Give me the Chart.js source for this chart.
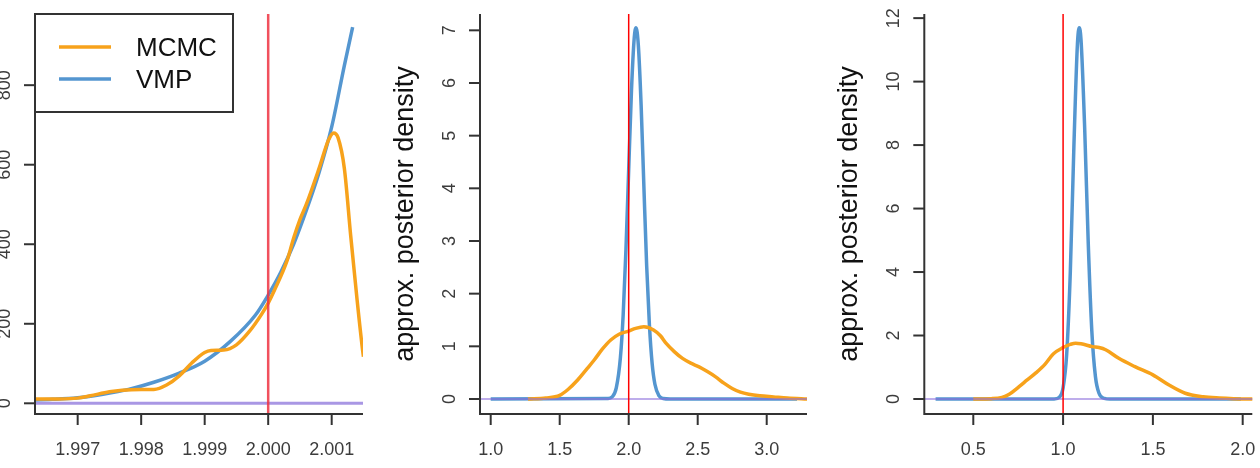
<!DOCTYPE html>
<html>
<head>
<meta charset="utf-8">
<script src="https://cdn.jsdelivr.net/npm/chart.js@4.4.1/dist/chart.umd.min.js"></script>
<style>
  body { margin: 0; background: #fff; }
  .wrap { position: relative; width: 1260px; height: 468px; overflow: hidden; }
  canvas { position: absolute; top: 0; }
</style>
</head>
<body>
<div class="wrap">
  <canvas id="panel1" width="380" height="468" style="left:0"></canvas>
  <canvas id="panel2" width="440" height="468" style="left:380px"></canvas>
  <canvas id="panel3" width="440" height="468" style="left:820px"></canvas>
</div>
<script>
const seriesLabels = ['MCMC', 'VMP'];
const yAxisTitle = 'approx. posterior density';
const trueValues = [2.000, 2.0, 1.0];

// panel 1
const mcmc1X = [1.9962, 1.9964, 1.9967, 1.9970, 1.9972, 1.9975, 1.9977, 1.9980, 1.9982, 1.9984, 1.9986, 1.9988, 1.9990, 1.9991, 1.9993, 1.9995, 1.9997, 1.9999, 2.0000, 2.0001, 2.0003, 2.0004, 2.0005, 2.0006, 2.0008, 2.00095, 2.00103, 2.0011, 2.0012, 2.0013, 2.0014, 2.0015, 2.0016];
const mcmc1Y = [10, 11, 11, 13, 19, 29, 33, 35, 35, 46, 69, 102, 128, 133, 134, 147, 180, 225, 252, 285, 360, 415, 462, 500, 590, 662, 680, 668, 590, 420, 260, 117, 20];
const vmp1X = [1.9962, 1.9966, 1.9970, 1.9974, 1.9978, 1.9982, 1.9986, 1.9990, 1.9994, 1.9998, 2.0000, 2.0002, 2.0004, 2.0006, 2.0008, 2.0010, 2.0012, 2.00133];
const vmp1Y = [8, 10, 14, 23, 35, 53, 76, 106, 155, 222, 272, 330, 400, 485, 580, 695, 850, 946];
const xTicks1 = [1.997, 1.998, 1.999, 2.000, 2.001];
const xLabels1 = ['1.997', '1.998', '1.999', '2.000', '2.001'];
const yTicks1 = [0, 200, 400, 600, 800];

// panel 2
const mcmc2X = [1.27, 1.40, 1.50, 1.56, 1.63, 1.70, 1.75, 1.81, 1.87, 1.93, 2.00, 2.05, 2.11, 2.18, 2.23, 2.27, 2.33, 2.39, 2.45, 2.51, 2.57, 2.63, 2.69, 2.75, 2.81, 2.87, 2.95, 3.05, 3.15, 3.30];
const mcmc2Y = [0, 0.02, 0.07, 0.18, 0.36, 0.58, 0.74, 0.95, 1.12, 1.23, 1.29, 1.34, 1.37, 1.31, 1.2, 1.06, 0.9, 0.77, 0.68, 0.61, 0.52, 0.42, 0.3, 0.2, 0.13, 0.09, 0.06, 0.04, 0.02, 0];
const vmp2X = [1.00, 1.85, 1.88, 1.91, 1.94, 1.96, 1.98, 2.00, 2.02, 2.04, 2.053, 2.07, 2.09, 2.11, 2.13, 2.15, 2.17, 2.19, 2.22, 2.25, 2.30, 3.22];
const vmp2Y = [0, 0.01, 0.04, 0.21, 0.79, 1.6, 2.83, 4.36, 5.85, 6.85, 7.05, 6.71, 5.58, 4.04, 2.54, 1.41, 0.67, 0.28, 0.06, 0.01, 0, 0];
const xTicks2 = [1.0, 1.5, 2.0, 2.5, 3.0];
const xLabels2 = ['1.0', '1.5', '2.0', '2.5', '3.0'];
const yTicks2 = [0, 1, 2, 3, 4, 5, 6, 7];

// panel 3
const mcmc3X = [0.50, 0.60, 0.66, 0.70, 0.755, 0.80, 0.85, 0.90, 0.945, 1.00, 1.04, 1.07, 1.10, 1.163, 1.20, 1.237, 1.31, 1.40, 1.50, 1.59, 1.68, 1.78, 1.87, 1.95, 2.06];
const mcmc3Y = [0, 0.01, 0.05, 0.15, 0.39, 0.6, 0.83, 1.1, 1.42, 1.62, 1.72, 1.76, 1.74, 1.65, 1.62, 1.55, 1.28, 1.02, 0.76, 0.44, 0.18, 0.07, 0.03, 0.01, 0];
const vmp3X = [0.29, 0.95, 0.98, 1.00, 1.02, 1.04, 1.06, 1.08, 1.09, 1.10, 1.12, 1.14, 1.16, 1.18, 1.20, 1.23, 1.26, 1.99];
const vmp3Y = [0, 0, 0.06, 0.35, 1.41, 3.97, 7.93, 11.2, 11.7, 11.3, 8.56, 4.92, 2.14, 0.71, 0.18, 0.02, 0, 0];
const xTicks3 = [0.5, 1.0, 1.5, 2.0];
const xLabels3 = ['0.5', '1.0', '1.5', '2.0'];
const yTicks3 = [0, 2, 4, 6, 8, 10, 12];

const FONT = "'Liberation Sans', Arial, Helvetica, sans-serif";
const ORANGE = '#F7A21B';
const BLUE = '#5496D0';

const toPoints = (xs, ys) => xs.map((x, i) => ({ x: x, y: ys[i] }));

// R style axes, reference lines, legend
const rAxes = {
  id: 'rAxes',
  afterDatasetsDraw(chart, args, o) {
    const { ctx, chartArea: a, scales: { x, y } } = chart;
    ctx.save();
    const y0 = y.getPixelForValue(0);
    ctx.strokeStyle = o.zeroColor;
    ctx.lineWidth = o.zeroWidth;
    ctx.beginPath();
    ctx.moveTo(a.left, y0);
    ctx.lineTo(a.right, y0);
    ctx.stroke();

    const tx = x.getPixelForValue(o.truth);
    ctx.strokeStyle = o.truthColor;
    ctx.lineWidth = o.truthWidth;
    ctx.beginPath();
    ctx.moveTo(tx, a.top);
    ctx.lineTo(tx, a.bottom);
    ctx.stroke();
    ctx.restore();
  },
  afterDraw(chart, args, o) {
    const { ctx, chartArea: a, scales: { x, y } } = chart;
    ctx.save();
    ctx.strokeStyle = '#333';
    ctx.lineWidth = 2;
    ctx.beginPath();
    ctx.moveTo(a.left, a.top);
    ctx.lineTo(a.left, a.bottom);
    ctx.lineTo(a.right, a.bottom);
    ctx.stroke();

    ctx.fillStyle = '#3c3c3c';
    ctx.font = '18px ' + FONT;
    ctx.textAlign = 'center';
    ctx.textBaseline = 'alphabetic';
    o.xTicks.forEach((v, i) => {
      const px = x.getPixelForValue(v);
      ctx.beginPath();
      ctx.moveTo(px, a.bottom);
      ctx.lineTo(px, a.bottom + 11);
      ctx.stroke();
      ctx.fillText(o.xLabels[i], px, a.bottom + 41);
    });
    o.yTicks.forEach(v => {
      const py = y.getPixelForValue(v);
      ctx.beginPath();
      ctx.moveTo(a.left, py);
      ctx.lineTo(a.left - 11, py);
      ctx.stroke();
      ctx.save();
      ctx.translate(a.left - 25, py);
      ctx.rotate(-Math.PI / 2);
      ctx.fillText(String(v), 0, 0);
      ctx.restore();
    });

    if (o.yTitle) {
      ctx.save();
      ctx.fillStyle = '#111';
      ctx.font = '27px ' + FONT;
      ctx.translate(a.left - 67, (a.top + a.bottom) / 2);
      ctx.rotate(-Math.PI / 2);
      ctx.fillText(o.yTitle, 0, 0);
      ctx.restore();
    }

    if (o.legend) {
      ctx.fillStyle = '#fff';
      ctx.fillRect(a.left, a.top, 198, 98);
      ctx.strokeStyle = '#333';
      ctx.lineWidth = 2;
      ctx.strokeRect(a.left, a.top, 198, 98);
      ctx.font = '26px ' + FONT;
      ctx.textAlign = 'left';
      chart.data.datasets.forEach((ds, i) => {
        const ly = a.top + 33 + i * 32;
        ctx.strokeStyle = ds.borderColor;
        ctx.lineWidth = 3.5;
        ctx.beginPath();
        ctx.moveTo(a.left + 24, ly);
        ctx.lineTo(a.left + 76, ly);
        ctx.stroke();
        ctx.fillStyle = '#111';
        ctx.fillText(ds.label, a.left + 101, ly + 9);
      });
    }
    ctx.restore();
  }
};

function drawPanel(id, p) {
  const ctx = document.getElementById(id).getContext('2d');
  new Chart(ctx, {
    type: 'line',
    data: {
      datasets: [
        {
          label: seriesLabels[0],
          data: toPoints(p.mcmcX, p.mcmcY),
          borderColor: ORANGE,
          borderWidth: 3.5,
          pointRadius: 0,
          fill: false,
          cubicInterpolationMode: 'monotone',
          clip: 0
        },
        {
          label: seriesLabels[1],
          data: toPoints(p.vmpX, p.vmpY),
          borderColor: BLUE,
          borderWidth: 3.5,
          pointRadius: 0,
          fill: false,
          cubicInterpolationMode: 'monotone',
          clip: 0
        }
      ]
    },
    options: {
      responsive: false,
      animation: false,
      layout: { padding: p.padding },
      scales: {
        x: { type: 'linear', min: p.xMin, max: p.xMax, display: false },
        y: { type: 'linear', min: p.yMin, max: p.yMax, display: false }
      },
      plugins: {
        legend: { display: false },
        tooltip: { enabled: false },
        rAxes: {
          xTicks: p.xTicks, xLabels: p.xLabels, yTicks: p.yTicks,
          truth: p.truth, legend: p.legend, yTitle: p.yTitle,
          zeroColor: p.zeroColor, zeroWidth: p.zeroWidth,
          truthColor: p.truthColor, truthWidth: p.truthWidth
        }
      }
    },
    plugins: [rAxes]
  });
}

drawPanel('panel1', {
  mcmcX: mcmc1X, mcmcY: mcmc1Y, vmpX: vmp1X, vmpY: vmp1Y,
  xTicks: xTicks1, xLabels: xLabels1, yTicks: yTicks1,
  xMin: 1.996328, xMax: 2.001493, yMin: -26.9, yMax: 979,
  truth: trueValues[0], legend: true, yTitle: null,
  padding: { left: 35, right: 17, top: 14, bottom: 54 },
  zeroColor: 'rgba(160,140,225,0.9)', zeroWidth: 3,
  truthColor: 'rgba(238,50,65,0.85)', truthWidth: 2.5
});

drawPanel('panel2', {
  mcmcX: mcmc2X, mcmcY: mcmc2Y, vmpX: vmp2X, vmpY: vmp2Y,
  xTicks: xTicks2, xLabels: xLabels2, yTicks: yTicks2,
  xMin: 0.9225, xMax: 3.292, yMin: -0.285, yMax: 7.31,
  truth: trueValues[1], legend: false, yTitle: yAxisTitle,
  padding: { left: 100, right: 13, top: 14, bottom: 54 },
  zeroColor: 'rgba(140,110,220,0.75)', zeroWidth: 1.5,
  truthColor: '#FF0000', truthWidth: 1.5
});

drawPanel('panel3', {
  mcmcX: mcmc3X, mcmcY: mcmc3Y, vmpX: vmp3X, vmpY: vmp3Y,
  xTicks: xTicks3, xLabels: xLabels3, yTicks: yTicks3,
  xMin: 0.2272, xMax: 2.0535, yMin: -0.473, yMax: 12.13,
  truth: trueValues[2], legend: false, yTitle: yAxisTitle,
  padding: { left: 104.3, right: 7.7, top: 14, bottom: 54 },
  zeroColor: 'rgba(140,110,220,0.75)', zeroWidth: 1.5,
  truthColor: '#FF0000', truthWidth: 1.5
});
</script>
</body>
</html>
